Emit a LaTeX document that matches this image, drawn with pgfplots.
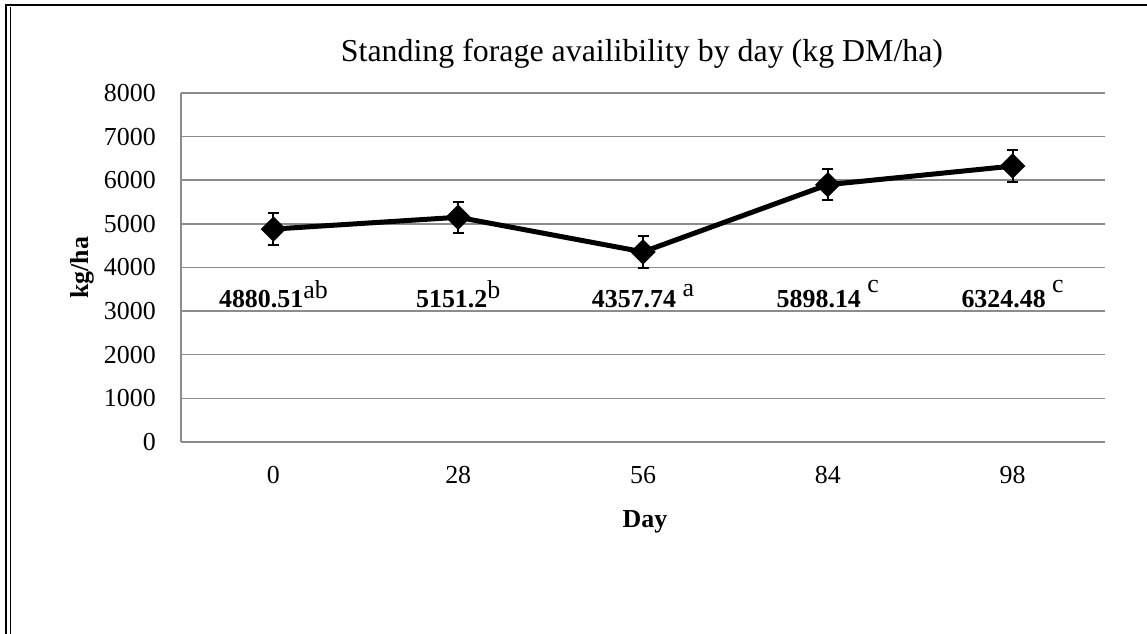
\documentclass[border=0pt]{standalone}
\usepackage{fontspec}
\setmainfont{Liberation Serif}
\usepackage{pgfplots}
\pgfplotsset{compat=1.18}
\begin{document}
\begin{tikzpicture}[x=1bp,y=1bp]
\useasboundingbox (0,0) rectangle (1147,634);
% frame
\draw[line width=2.5bp] (4.8,629) -- (1147,629);
\draw[line width=2.5bp] (6,630.2) -- (6,0);
\draw[line width=1.2bp] (10.5,627) -- (10.5,0);
\begin{axis}[
  at={(181bp,192bp)}, anchor=south west,
  scale only axis, width=924bp, height=349bp,
  xmin=-0.5, xmax=4.5, ymin=0, ymax=8000,
  ytick={0,1000,...,8000},
  xtick={0,1,2,3,4}, xticklabels={0,28,56,84,98},
  major tick length=0pt,
  axis x line*=bottom, axis y line*=left,
  axis line style={draw=black!45, line width=1.5bp},
  ymajorgrids, grid style={draw=black!45, line width=1.5bp},
  /pgf/number format/assume math mode=true,
  /pgf/number format/set thousands separator={},
  ticklabel style={font=\fontsize{26}{30}\selectfont},
  yticklabel style={inner sep=0pt, anchor=east, xshift=-25bp},
  xticklabel style={inner sep=0pt, anchor=north, yshift=-24bp},
  clip=false,
]
\addplot[black, line width=5bp, mark=square*, mark size=6.5bp,
  mark options={rotate=45, solid},
  error bars/.cd, y dir=both, y explicit,
  error bar style={line width=2bp, black},
  error mark options={rotate=90, mark size=5.5bp, line width=2bp}]
  coordinates {
  (0,4880.51) +- (0,360)
  (1,5151.2) +- (0,360)
  (2,4357.74) +- (0,360)
  (3,5898.14) +- (0,360)
  (4,6324.48) +- (0,360)
};
\begin{scope}[every node/.style={anchor=base, inner sep=0pt, font=\fontsize{26}{30}\selectfont}]
\node at (axis cs:0,3072) {\textbf{4880.51}\raisebox{9bp}{ab}};
\node at (axis cs:1,3072) {\textbf{5151.2}\raisebox{9bp}{b}};
\node at (axis cs:2,3072) {\textbf{4357.74} \raisebox{11bp}{a}};
\node at (axis cs:3,3072) {\textbf{5898.14} \raisebox{15bp}{c}};
\node at (axis cs:4,3072) {\textbf{6324.48} \raisebox{15bp}{c}};
\end{scope}
\end{axis}
\node[anchor=base, inner sep=0pt, font=\fontsize{32}{36}\selectfont] at (642,572) {Standing forage availibility by day (kg DM/ha)};
\node[anchor=base, inner sep=0pt, font=\fontsize{26}{30}\selectfont\bfseries] at (645,106) {Day};
\node[rotate=90, inner sep=0pt, font=\fontsize{26}{30}\selectfont\bfseries] at (82,366) {kg/ha};
\end{tikzpicture}
\end{document}
